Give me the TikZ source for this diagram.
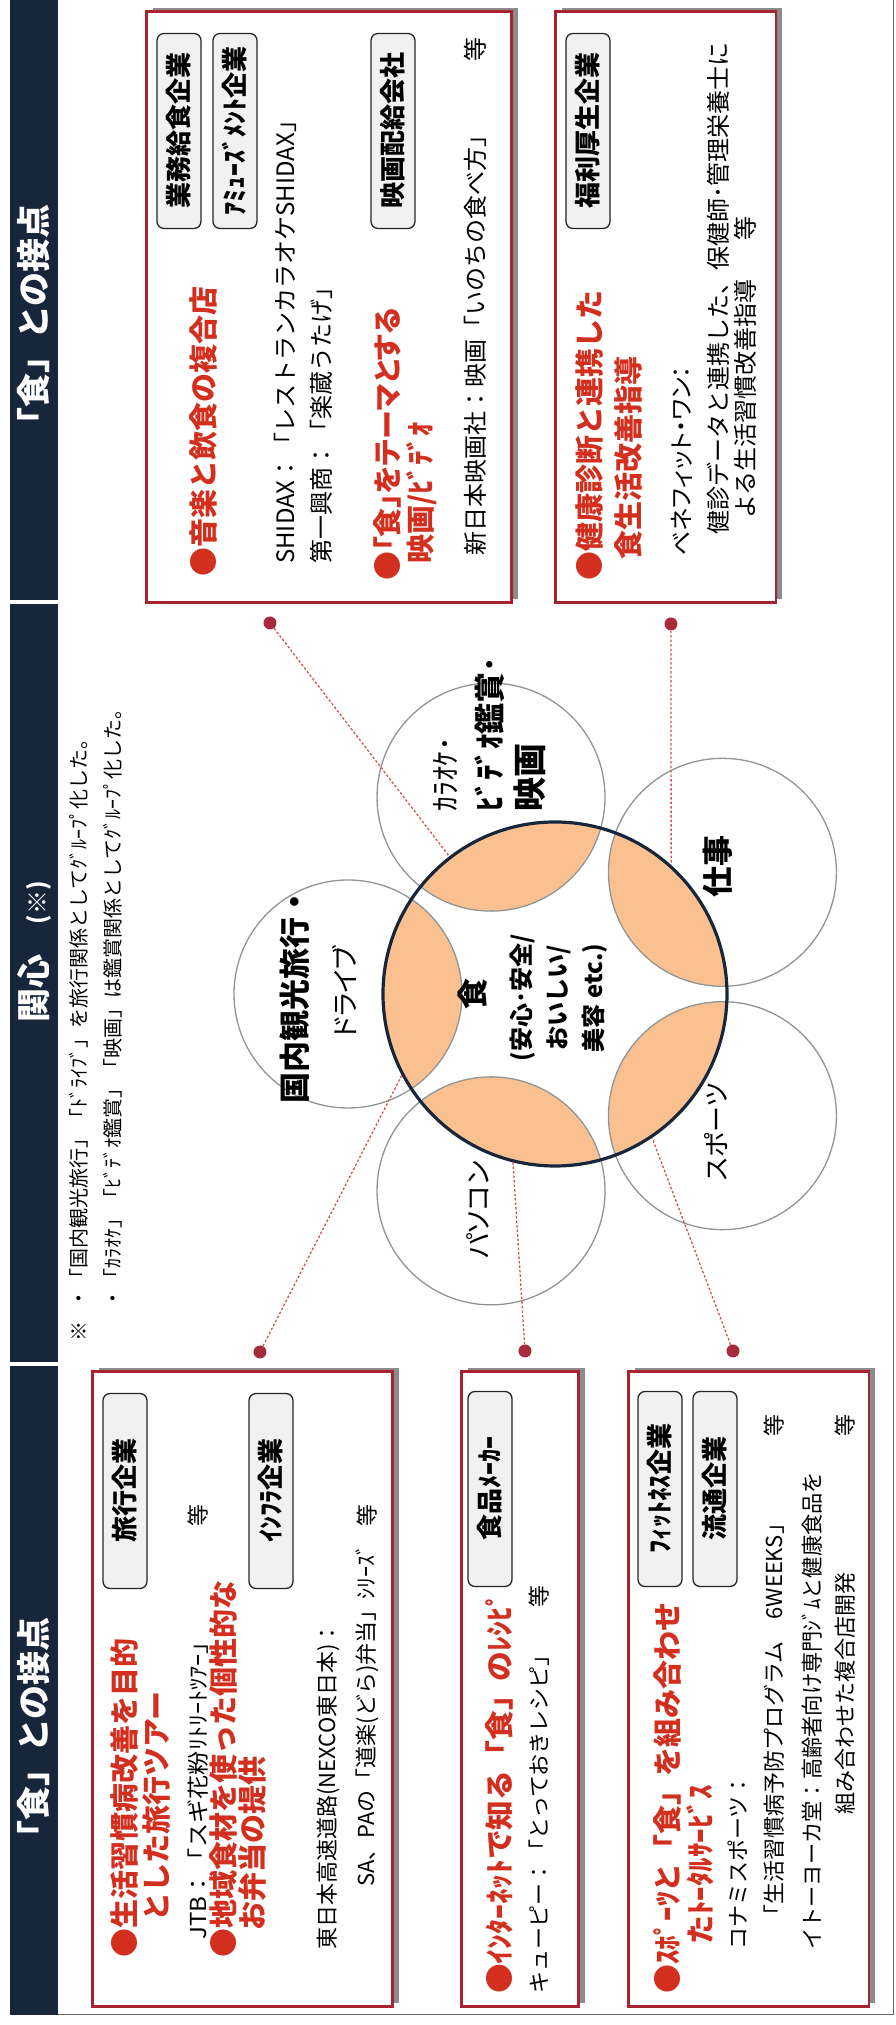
\documentclass[tikz,border=0pt]{standalone}
\usepackage{graphicx}
\usepackage{fontspec}
\setmainfont{Noto Sans CJK JP}
\newfontfamily\propfont{Noto Sans CJK JP}[RawFeature=+palt]
\usepackage{tikz}
\usetikzlibrary{positioning, calc}
\definecolor{navy}{HTML}{17263B}
\definecolor{boxred}{HTML}{A82330}
\definecolor{headred}{HTML}{D32F1F}
\definecolor{lens}{HTML}{FAC08F}
\definecolor{dotred}{HTML}{A62B3D}
\definecolor{dashred}{HTML}{D4544A}
\definecolor{ringgray}{HTML}{8E9597}
\definecolor{tagfill}{HTML}{F1F1F1}

\begin{document}
\begin{tikzpicture}[x=1pt, y=1pt, rotate=90, transform shape,
    band/.style={fill=navy, draw=none, inner sep=0, minimum height=48pt, anchor=west},
    bandlbl/.style={text=white, inner sep=0, font=\fontsize{34}{36}\selectfont\bfseries},
    panel/.style={draw=boxred, line width=2.5pt, fill=white, inner sep=0, anchor=south west},
    panelshade/.style={fill=black!45, inner sep=0, anchor=south west},
    tag/.style={draw=black!85, line width=1.3pt, fill=tagfill, rounded corners=7pt,
                minimum width=195pt, minimum height=44pt, inner sep=0,
                font=\fontsize{26}{28}\selectfont\bfseries},
    headtxt/.style={anchor=west, inner sep=0, text=headred, font=\fontsize{29}{31}\selectfont\bfseries},
    bodytxt/.style={anchor=west, inner sep=0, font=\fontsize{24}{26}\selectfont},
    lowtxt/.style={anchor=west, inner sep=0, font=\fontsize{22}{24}\selectfont},
    notetxt/.style={anchor=west, inner sep=0, font=\fontsize{20}{22}\selectfont},
    ring/.style={circle, draw=ringgray, line width=1.3pt, minimum size=228pt, inner sep=0},
    foodring/.style={circle, draw=navy, line width=3.2pt, minimum size=344pt, inner sep=0},
    ringtxt/.style={inner sep=0, font=\fontsize{30}{32}\selectfont},
    ringbold/.style={inner sep=0, font=\fontsize{31}{33}\selectfont\bfseries},
    dot/.style={circle, fill=dotred, minimum size=13pt, inner sep=0},
    link/.style={draw=dashred, line width=1.3pt, dash pattern=on 2.5pt off 2pt},
  ]
    \useasboundingbox (0,0) rectangle (2025,896);
    \draw[black!60, line width=1pt] (10,886) -- (10,3) -- (2025,3);

    \node[band, minimum width=600pt] (bandtop) at (1425,862) {};
    \node[band, minimum width=758pt] (bandmid) at (663,862) {};
    \node[band, minimum width=649pt] (bandlow) at (10,862) {};
    \node[bandlbl] (toplbl) at (1702,862) {「食」との接点};
    \node[bandlbl] (midlbl) at (1073,862) {関心\hspace{30pt}{\fontsize{24}{26}\selectfont(※)}};
    \node[bandlbl] (lowlbl) at (289,862) {「食」との接点};

    \node[panelshade, minimum width=591pt, minimum height=365pt] (musicshade) at (1426,378) {};
    \node[panel, minimum width=591pt, minimum height=365pt] (musicbox) at (1421,383) {};
    \node[tag] (tagcater) at (1894,717) {業務給食企業};
    \node[tag] (tagamuse) at (1894,661) {ｱﾐｭｰｽﾞﾒﾝﾄ企業};
    \node[tag] (tagfilm) at (1894,503) {映画配給会社};
    \node[headtxt] (music) at (1448,693) {●音楽と飲食の複合店};
    \node[bodytxt] (shidax) at (1461,611) {SHIDAX：「レストランカラオケSHIDAX」};
    \node[bodytxt] (daiichi) at (1461,575) {第一興商：「楽蔵うたげ」};
    \node[headtxt] (film) at (1444,509) {\propfont ●「食」をテーマとする};
    \node[headtxt] (film2) at (1461,474) {映画/ﾋﾞﾃﾞｵ};
    \node[bodytxt] (nihon) at (1469,421) {新日本映画社：映画「いのちの食べ方」};
    \node[bodytxt] (nihonetc) at (1963,421) {等};

    \node[panelshade, minimum width=591pt, minimum height=220pt] (healthshade) at (1426,114) {};
    \node[panel, minimum width=591pt, minimum height=220pt] (healthbox) at (1421,119) {};
    \node[tag] (tagwelfare) at (1894,308) {福利厚生企業};
    \node[headtxt] (health) at (1444,306) {●健康診断と連携した};
    \node[headtxt] (health2) at (1465,268) {食生活改善指導};
    \node[bodytxt] (benefit) at (1469,214) {\propfont ベネフィット・ワン：};
    \node[bodytxt] (benefit2) at (1490,178) {健診データと連携した、保健師･管理栄養士に};
    \node[bodytxt] (benefit3) at (1506,151) {よる生活習慣改善指導};
    \node[bodytxt] (benefitetc) at (1784,151) {等};

    \node[notetxt] (notemark) at (683,817) {※};
    \node[notetxt] (note1) at (716,817) {・「国内観光旅行」「ﾄﾞﾗｲﾌﾞ」を旅行関係としてｸﾞﾙｰﾌﾟ化した。};
    \node[notetxt] (note2) at (716,783) {・「ｶﾗｵｹ」「ﾋﾞﾃﾞｵ鑑賞」「映画」は鑑賞関係としてｸﾞﾙｰﾌﾟ化した。};

    \node[panelshade, minimum width=635pt, minimum height=300pt] (travelshade) at (22,497) {};
    \node[panel, minimum width=635pt, minimum height=300pt] (travelbox) at (17,502) {};
    \node[tag] (tagtravel) at (534,771) {旅行企業};
    \node[tag] (taginfra) at (534,625) {ｲﾝﾌﾗ企業};
    \node[headtxt] (travel) at (67,771) {●生活習慣病改善を目的};
    \node[headtxt] (travel2) at (103,739) {とした旅行ツアー};
    \node[lowtxt] (jtb) at (85,698) {\resizebox{310pt}{\height}{JTB：「スギ花粉ﾘﾄﾘｰﾄﾂｱｰ」}};
    \node[lowtxt] (jtbetc) at (498,698) {等};
    \node[headtxt] (bento) at (67,673) {●地域食材を使った個性的な};
    \node[headtxt] (bento2) at (94,644) {お弁当の提供};
    \node[lowtxt] (nexco) at (75,568) {東日本高速道路(NEXCO東日本)：};
    \node[lowtxt] (nexco2) at (138,529) {SA、PAの「道楽(どら)弁当」ｼﾘｰｽﾞ};
    \node[lowtxt] (nexcoetc) at (498,529) {等};

    \node[panelshade, minimum width=635pt, minimum height=117pt] (recipeshade) at (22,311) {};
    \node[panel, minimum width=635pt, minimum height=117pt] (recipebox) at (17,316) {};
    \node[tag] (tagfood) at (536,406) {食品ﾒｰｶｰ};
    \node[headtxt] (recipe) at (31,397) {\resizebox{402pt}{\height}{●ｲﾝﾀｰﾈｯﾄで知る「食」のﾚｼﾋﾟ}};
    \node[lowtxt] (kewpie) at (31,357) {キューピー：「とっておきレシピ」};
    \node[lowtxt] (kewpieetc) at (417,357) {等};

    \node[panelshade, minimum width=635pt, minimum height=240pt] (sportshade) at (22,21) {};
    \node[panel, minimum width=635pt, minimum height=240pt] (sportbox) at (17,26) {};
    \node[tag] (tagfit) at (536,236) {ﾌｨｯﾄﾈｽ企業};
    \node[tag] (tagretail) at (536,181) {流通企業};
    \node[headtxt] (sport1) at (31,229) {●ｽﾎﾟｰﾂと「食」を組み合わせ};
    \node[headtxt] (sport2) at (80,196) {たﾄｰﾀﾙｻｰﾋﾞｽ};
    \node[lowtxt] (konami) at (75,158) {コナミスポーツ：};
    \node[lowtxt] (konami2) at (98,122) {「生活習慣病予防プログラム　6WEEKS」};
    \node[lowtxt] (konamietc) at (588,122) {等};
    \node[lowtxt] (ito) at (75,84) {\resizebox{478pt}{\height}{イトーヨーカ堂：高齢者向け専門ｼﾞﾑと健康食品を}};
    \node[lowtxt] (ito2) at (210,51) {組み合わせた複合店開発};
    \node[lowtxt] (itoetc) at (588,51) {等};

    \coordinate (hub) at (1031,341);
    \begin{scope}
      \clip (hub) circle[radius=172];
      \foreach \a in {90,18,-54,-126,162}
        \fill[lens] ($(hub)+(\a:207)$) circle[radius=114];
    \end{scope}
    \node[ring] (trip) at ($(hub)+(90:207)$) {};
    \node[ring] (karaoke) at ($(hub)+(18:207)$) {};
    \node[ring] (work) at ($(hub)+(-54:207)$) {};
    \node[ring] (sport) at ($(hub)+(-126:207)$) {};
    \node[ring] (pc) at ($(hub)+(162:207)$) {};
    \node[foodring] (food) at (hub) {};

    \node[dot] (dotA) at (1402,626) {};
    \node[dot] (dotB) at (1401,225) {};
    \node[dot] (dotC) at (673,636) {};
    \node[dot] (dotD) at (674,371) {};
    \node[dot] (dotE) at (674,163) {};
    \draw[link] (dotA) -- (food);
    \draw[link] (dotB) -- (food.-42);
    \draw[link] (dotC) -- (food.118);
    \draw[link] (dotD) -- (food.166);
    \draw[link] (dotE) -- (food.214);

    \node[ringbold] (triplbl) at (1030,601) {国内観光旅行・};
    \node[ringtxt, font=\fontsize{27}{29}\propfont] (triplbl2) at (1033,551) {ドライブ};
    \node[ringtxt, anchor=west] (karalbl) at (1213,451) {ｶﾗｵｹ･};
    \node[ringbold, anchor=west] (karalbl2) at (1213,406) {ﾋﾞﾃﾞｵ鑑賞･};
    \node[ringbold, anchor=west, font=\fontsize{34}{36}\selectfont\bfseries] (karalbl3) at (1213,366) {映画};
    \node[ringbold] (worklbl) at (1158,178) {仕事};
    \node[ringtxt, font=\fontsize{26}{28}\propfont] (sportlbl) at (893,180) {スポーツ};
    \node[ringtxt, font=\fontsize{27}{29}\propfont] (pclbl) at (815,418) {パソコン};
    \node[ringbold] (foodlbl) at (1031,423) {食};
    \node[inner sep=0, align=center, font=\fontsize{24}{36}\selectfont\bfseries] (foodsub) at (1027,337)
         {(安心･安全/\\おいしい/\\美容 etc.)};
\end{tikzpicture}
\end{document}
